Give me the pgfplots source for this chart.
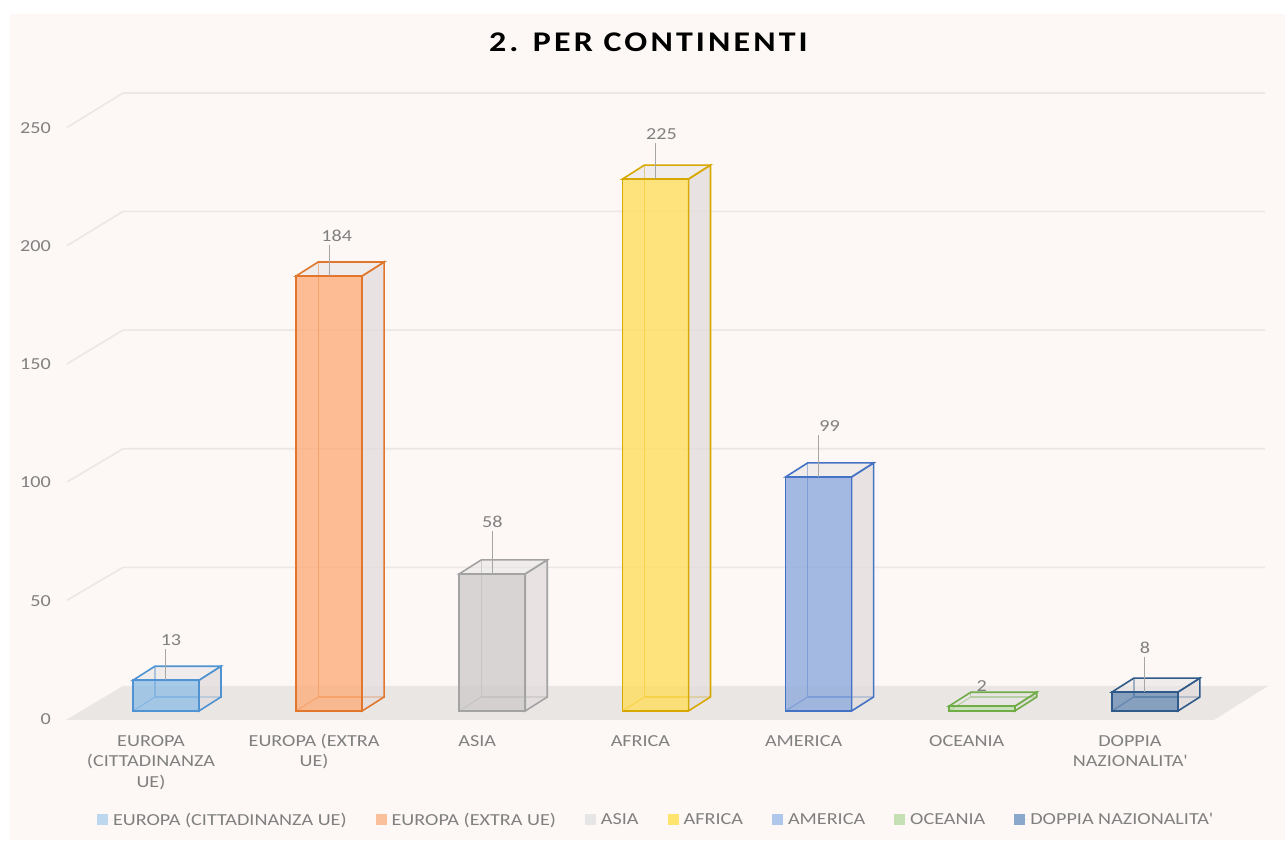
\documentclass[border=0pt]{standalone}
\usepackage{pgfplots}
\pgfplotsset{compat=1.18}
\usepackage{fontspec}
\setmainfont{Carlito}[FakeStretch=1.2]
\newfontfamily\titlefont{Carlito}[FakeStretch=1.19, LetterSpace=11]
\definecolor{bgcol}{HTML}{FDF8F5}
\definecolor{floorcol}{HTML}{EAE6E4}
\definecolor{gridcol}{HTML}{ECE7E4}
\definecolor{sidegray}{HTML}{E2DDDC}
\definecolor{topgray}{HTML}{E8E5E5}
\definecolor{labgray}{HTML}{808080}
\definecolor{leadgray}{HTML}{A6A6A6}
% edge / fill / legend colours
\definecolor{e1}{HTML}{4F93D2}\definecolor{f1}{HTML}{93BFE6}\definecolor{l1}{HTML}{BDD7EE}
\definecolor{e2}{HTML}{E0772C}\definecolor{f2}{HTML}{FDAE7C}\definecolor{l2}{HTML}{F9C09B}
\definecolor{e3}{HTML}{A3A3A3}\definecolor{f3}{HTML}{CFCBCB}\definecolor{l3}{HTML}{E7E6E6}
\definecolor{e4}{HTML}{D6A800}\definecolor{f4}{HTML}{FFDE5E}\definecolor{l4}{HTML}{FFE56E}
\definecolor{e5}{HTML}{4472C4}\definecolor{f5}{HTML}{8EAADC}\definecolor{l5}{HTML}{B0C7EC}
\definecolor{e6}{HTML}{70AD47}\definecolor{f6}{HTML}{C5E0B4}\definecolor{l6}{HTML}{C5E0B4}
\definecolor{e7}{HTML}{2F5A8A}\definecolor{f7}{HTML}{6D8FB5}\definecolor{l7}{HTML}{8AA8CC}
\newcommand\lbl{\fontsize{16.8}{20.3}\selectfont}
% 3D box parts behind the front face: index, value, edge colour
\newcommand{\cube}[3]{%
  \pgfmathsetmacro\xl{#1-0.2022}%
  \pgfmathsetmacro\xr{#1+0.2022}%
  \pgfmathsetmacro\xbl{#1-0.2022+0.1348}%
  \pgfmathsetmacro\xbr{#1+0.2022+0.1348}%
  \pgfmathsetmacro\yt{#2+5.92}%
  \addplot[forget plot, draw=#3, line width=1.1pt] coordinates {(\xbl,5.92) (\xbr,5.92) (\xbr,\yt) (\xbl,\yt)} -- cycle;
  \addplot[forget plot, draw=#3, line width=1.1pt] coordinates {(\xl,0) (\xbl,5.92)};
  \addplot[forget plot, draw=#3, line width=1.6pt, fill=sidegray, fill opacity=0.75] coordinates {(\xr,0) (\xbr,5.92) (\xbr,\yt) (\xr,#2)} -- cycle;
  \addplot[forget plot, draw=#3, line width=1.6pt, fill=topgray, fill opacity=0.6] coordinates {(\xl,#2) (\xbl,\yt) (\xbr,\yt) (\xr,#2)} -- cycle;
}
\begin{document}
\begin{tikzpicture}
\fill[white] (0,0) rectangle (1285pt,841pt);
\fill[bgcol] (10pt,1pt) rectangle (1285pt,827pt);
\useasboundingbox (0,0) rectangle (1285pt,841pt);
\begin{axis}[
  at={(43.6pt,106.4pt)}, anchor=south west,
  scale only axis, width=1231.9pt, height=650.1pt,
  xmin=-0.75, xmax=6.8, ymin=-10, ymax=265,
  clip=false,
  axis line style={draw=none},
  tick style={draw=none}, major tick length=0pt,
  /pgf/number format/assume math mode=true,
  ytick={0,50,100,150,200,250},
  yticklabel style={font=\lbl, text=labgray, anchor=east, inner sep=0pt, xshift=7.4pt, yshift=-8pt},
  xtick={0,1,2,3,4,5,6},
  xticklabels={{\strut EUROPA\\(CITTADINANZA\\UE)},{\strut EUROPA (EXTRA\\UE)},{\strut ASIA},{\strut AFRICA},{\strut AMERICA},{\strut OCEANIA},{\strut DOPPIA\\NAZIONALITA\textquotesingle}},
  xticklabel style={font=\lbl, text=labgray, align=center, anchor=north, inner sep=0pt, xshift=-15pt, yshift=2.5pt},
  every node near coord/.style={font=\lbl, text=labgray, anchor=center},
  title={\titlefont\fontsize{28.5}{34}\selectfont\bfseries 2. PER CONTINENTI},
  title style={at={(0.491,1.056)}, anchor=center, text=black, inner sep=0pt},
  legend columns=7,
  legend image code/.code={\fill[#1, draw=none] (-2pt,-5.5pt) rectangle (9pt,5.5pt); \path[draw=none] (0pt,0pt) -- (12pt,0pt);},
  legend style={at={(0.497,-0.131)}, anchor=center, draw=none, fill=none,
    nodes={inner sep=2pt, text=labgray, font=\lbl},
    /tikz/every even column/.append style={column sep=27pt}},
]
% floor
\addplot[forget plot, draw=none, fill=floorcol] coordinates {(-0.613,-3.81) (6.423,-3.81) (6.754,10.58) (-0.2635,10.58)} -- cycle;
% gridlines (perspective)
\addplot[forget plot, draw=gridcol, line width=1.6pt] coordinates {(-0.607,46.8) (-0.2635,60.75) (6.735,60.75)};
\addplot[forget plot, draw=gridcol, line width=1.6pt] coordinates {(-0.607,96.8) (-0.2635,110.9) (6.735,110.9)};
\addplot[forget plot, draw=gridcol, line width=1.6pt] coordinates {(-0.607,146.8) (-0.2635,161.1) (6.735,161.1)};
\addplot[forget plot, draw=gridcol, line width=1.6pt] coordinates {(-0.607,196.8) (-0.2635,211.3) (6.735,211.3)};
\addplot[forget plot, draw=gridcol, line width=1.6pt] coordinates {(-0.607,246.8) (-0.2635,261.4) (6.735,261.4)};
% boxes
\cube{0}{13}{e1}
\addplot[forget plot, ybar, bar width=0.4044, bar shift=0pt, draw=e1, fill=f1, fill opacity=0.8, line width=1.7pt] coordinates {(0,13)};
\cube{1}{184}{e2}
\addplot[forget plot, ybar, bar width=0.4044, bar shift=0pt, draw=e2, fill=f2, fill opacity=0.8, line width=1.7pt] coordinates {(1,184)};
\cube{2}{58}{e3}
\addplot[forget plot, ybar, bar width=0.4044, bar shift=0pt, draw=e3, fill=f3, fill opacity=0.8, line width=1.7pt] coordinates {(2,58)};
\cube{3}{225}{e4}
\addplot[forget plot, ybar, bar width=0.4044, bar shift=0pt, draw=e4, fill=f4, fill opacity=0.8, line width=1.7pt] coordinates {(3,225)};
\cube{4}{99}{e5}
\addplot[forget plot, ybar, bar width=0.4044, bar shift=0pt, draw=e5, fill=f5, fill opacity=0.8, line width=1.7pt] coordinates {(4,99)};
\cube{5}{2}{e6}
\addplot[forget plot, ybar, bar width=0.4044, bar shift=0pt, draw=e6, fill=f6, fill opacity=0.8, line width=1.7pt] coordinates {(5,2)};
\cube{6}{8}{e7}
\addplot[forget plot, ybar, bar width=0.4044, bar shift=0pt, draw=e7, fill=f7, fill opacity=0.8, line width=1.7pt] coordinates {(6,8)};
% data labels with leader lines
\addplot[forget plot, draw=none, nodes near coords, every node near coord/.append style={xshift=5pt, yshift=40pt},
  error bars/.cd, y dir=plus, y fixed=13.1, error mark=none, error bar style={draw=leadgray, line width=1pt}] coordinates {(0,13)};
\addplot[forget plot, draw=none, nodes near coords, every node near coord/.append style={xshift=7.5pt, yshift=40pt},
  error bars/.cd, y dir=plus, y fixed=13.1, error mark=none, error bar style={draw=leadgray, line width=1pt}] coordinates {(1,184)};
\addplot[forget plot, draw=none, nodes near coords, every node near coord/.append style={xshift=0pt, yshift=52pt},
  error bars/.cd, y dir=plus, y fixed=18.2, error mark=none, error bar style={draw=leadgray, line width=1pt}] coordinates {(2,58)};
\addplot[forget plot, draw=none, nodes near coords, every node near coord/.append style={xshift=6pt, yshift=45pt},
  error bars/.cd, y dir=plus, y fixed=15.2, error mark=none, error bar style={draw=leadgray, line width=1pt}] coordinates {(3,225)};
\addplot[forget plot, draw=none, nodes near coords, every node near coord/.append style={xshift=11pt, yshift=51pt},
  error bars/.cd, y dir=plus, y fixed=17.8, error mark=none, error bar style={draw=leadgray, line width=1pt}] coordinates {(4,99)};
\addplot[forget plot, draw=none, nodes near coords, every node near coord/.append style={xshift=0pt, yshift=20pt}] coordinates {(5,2)};
\addplot[forget plot, draw=none, nodes near coords, every node near coord/.append style={xshift=0pt, yshift=44pt},
  error bars/.cd, y dir=plus, y fixed=14.8, error mark=none, error bar style={draw=leadgray, line width=1pt}] coordinates {(6,8)};
% legend
\addlegendimage{fill=l1}\addlegendentry{EUROPA (CITTADINANZA UE)}
\addlegendimage{fill=l2}\addlegendentry{EUROPA (EXTRA UE)}
\addlegendimage{fill=l3}\addlegendentry{ASIA}
\addlegendimage{fill=l4}\addlegendentry{AFRICA}
\addlegendimage{fill=l5}\addlegendentry{AMERICA}
\addlegendimage{fill=l6}\addlegendentry{OCEANIA}
\addlegendimage{fill=l7}\addlegendentry{DOPPIA NAZIONALITA\textquotesingle}
\end{axis}
\end{tikzpicture}
\end{document}
